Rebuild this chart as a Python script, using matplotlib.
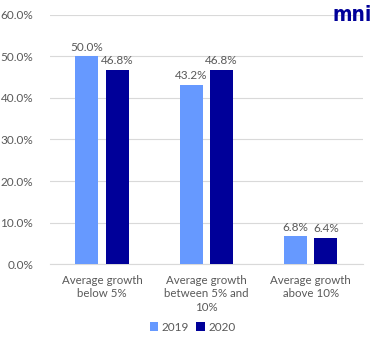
import numpy as np
import matplotlib.pyplot as plt

categories = ['Average growth\nbelow 5%', 'Average growth\nbetween 5% and\n10%', 'Average growth\nabove 10%']
vals_2019 = [50.0, 43.2, 6.8]
vals_2020 = [46.8, 46.8, 6.4]
years = ['2019', '2020']
ticks = [0, 10, 20, 30, 40, 50, 60]

plt.rcParams['font.family'] = ['Lato', 'DejaVu Sans']
txt = '#595959'

fig = plt.figure(figsize=(3.78, 3.54), dpi=100)
ax = fig.add_axes([0.132, 0.254, 0.828, 0.704])

x = np.arange(len(categories))
w = 0.22
b1 = ax.bar(x - 0.145, vals_2019, w, color='#6699FF', label=years[0], zorder=3)
b2 = ax.bar(x + 0.145, vals_2020, w, color='#000099', label=years[1], zorder=3)

for bars in (b1, b2):
    for r in bars:
        ax.text(r.get_x() + r.get_width() / 2, r.get_height() + 0.8, '%.1f%%' % r.get_height(),
                ha='center', va='bottom', fontsize=8.5, color=txt)

ax.set_ylim(0, 60)
ax.set_xlim(-0.5, 2.5)
ax.set_yticks(ticks)
ax.set_yticklabels(['%.1f%%' % t for t in ticks], fontsize=8.5, color=txt)
ax.set_xticks(x)
ax.set_xticklabels(categories, fontsize=8.3, color=txt, linespacing=1.25)
ax.tick_params(length=0, pad=8)
ax.tick_params(axis='y', pad=12)
ax.grid(axis='y', color='#D9D9D9', lw=0.8, zorder=0)
for s in ['top', 'right', 'left']:
    ax.spines[s].set_visible(False)
ax.spines['bottom'].set_color('#D9D9D9')

fig.legend(loc='center', bbox_to_anchor=(0.51, 0.076), ncol=2, frameon=False, fontsize=8.5,
           handlelength=0.7, handleheight=0.7, handletextpad=0.3, columnspacing=0.6, labelcolor=txt)

fig.text(0.985, 0.958, 'mni', ha='right', va='center', fontsize=15, fontweight='bold', color='#000099',
         family='DejaVu Sans', fontstretch='condensed')

fig.savefig('out.png', dpi=100)
